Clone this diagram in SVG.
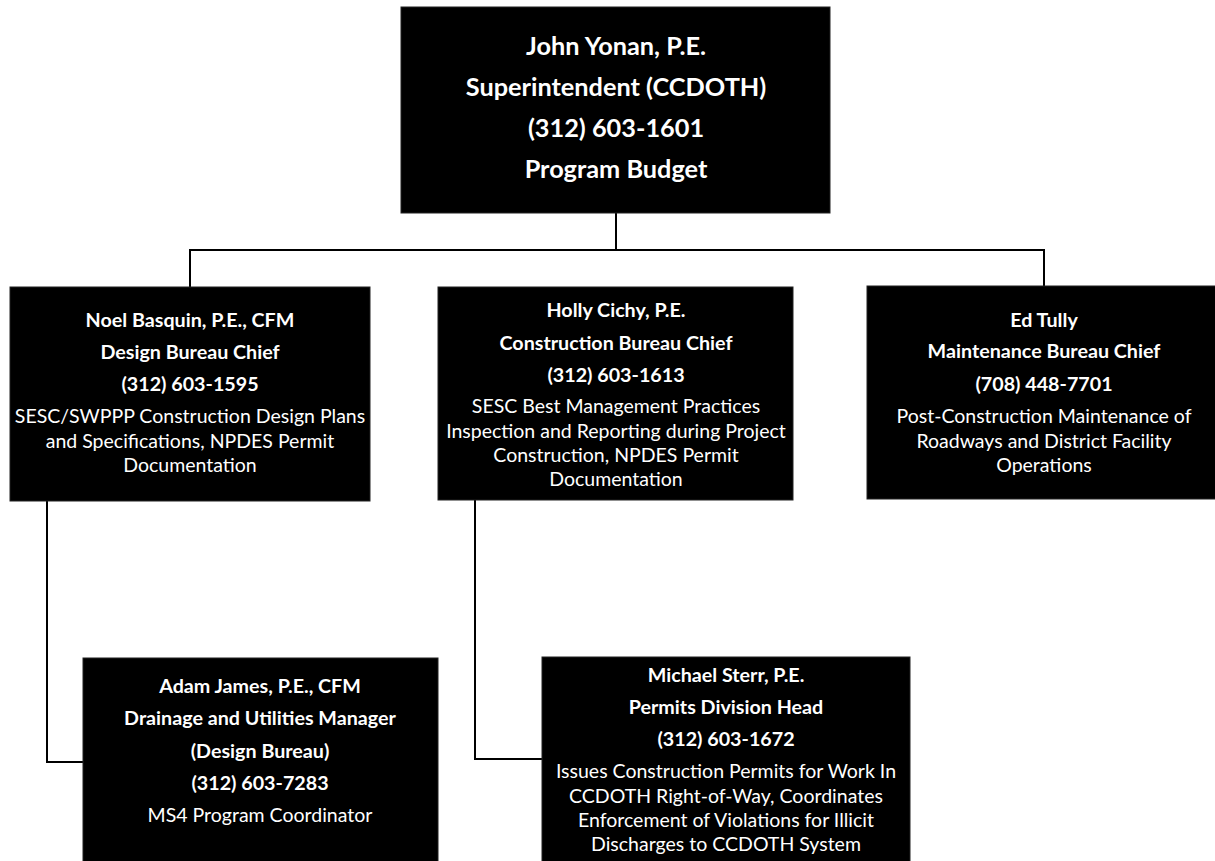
<svg xmlns="http://www.w3.org/2000/svg" width="1215" height="861" viewBox="0 0 1215 861">
<style>
.box{fill:#000;stroke:#222;stroke-width:1}
.b{font-family:Lato,"Liberation Sans",sans-serif;font-weight:bold;fill:#fff;text-anchor:middle;font-size:19.7px}
.r{font-family:Lato,"Liberation Sans",sans-serif;fill:#fff;text-anchor:middle;font-size:19.5px}
.t{font-family:Lato,"Liberation Sans",sans-serif;font-weight:bold;fill:#fff;text-anchor:middle;font-size:25.3px}
.c{fill:none;stroke:#000;stroke-width:2}
</style>
<rect width="1215" height="861" fill="#fff"/>
<g id="connectors">
<path class="c" d="M616 213V250M190 287V250H1044V286"/>
<path class="c" d="M47 501V762H83"/>
<path class="c" d="M475 500V759H542"/>
</g>
<g id="yonan">
<rect class="box" x="401" y="7" width="429" height="206"/>
<text class="t" x="616" y="55">John Yonan, P.E.</text>
<text class="t" x="616" y="96">Superintendent (CCDOTH)</text>
<text class="t" x="616" y="137">(312) 603-1601</text>
<text class="t" x="616" y="178">Program Budget</text>
</g>
<g id="basquin">
<rect class="box" x="10" y="287" width="360" height="214"/>
<text class="b" x="190" y="327">Noel Basquin, P.E., CFM</text>
<text class="b" x="190" y="359">Design Bureau Chief</text>
<text class="b" x="190" y="391">(312) 603-1595</text>
<text class="r" x="190" y="423">SESC/SWPPP Construction Design Plans</text>
<text class="r" x="190" y="448">and Specifications, NPDES Permit</text>
<text class="r" x="190" y="472">Documentation</text>
</g>
<g id="cichy">
<rect class="box" x="438" y="287" width="355" height="213"/>
<text class="b" x="616" y="317">Holly Cichy, P.E.</text>
<text class="b" x="616" y="350">Construction Bureau Chief</text>
<text class="b" x="616" y="382">(312) 603-1613</text>
<text class="r" x="616" y="413">SESC Best Management Practices</text>
<text class="r" x="616" y="438">Inspection and Reporting during Project</text>
<text class="r" x="616" y="462">Construction, NPDES Permit</text>
<text class="r" x="616" y="486">Documentation</text>
</g>
<g id="tully">
<rect class="box" x="867" y="286" width="360" height="213"/>
<text class="b" x="1044" y="327">Ed Tully</text>
<text class="b" x="1044" y="358">Maintenance Bureau Chief</text>
<text class="b" x="1044" y="391">(708) 448-7701</text>
<text class="r" x="1044" y="423">Post-Construction Maintenance of</text>
<text class="r" x="1044" y="448">Roadways and District Facility</text>
<text class="r" x="1044" y="472">Operations</text>
</g>
<g id="james">
<rect class="box" x="83" y="658" width="355" height="215"/>
<text class="b" x="260" y="693">Adam James, P.E., CFM</text>
<text class="b" x="260" y="725">Drainage and Utilities Manager</text>
<text class="b" x="260" y="758">(Design Bureau)</text>
<text class="b" x="260" y="790">(312) 603-7283</text>
<text class="r" x="260" y="822">MS4 Program Coordinator</text>
</g>
<g id="sterr">
<rect class="box" x="542" y="657" width="368" height="215"/>
<text class="b" x="726" y="682">Michael Sterr, P.E.</text>
<text class="b" x="726" y="714">Permits Division Head</text>
<text class="b" x="726" y="746">(312) 603-1672</text>
<text class="r" x="726" y="778">Issues Construction Permits for Work In</text>
<text class="r" x="726" y="803">CCDOTH Right-of-Way, Coordinates</text>
<text class="r" x="726" y="827">Enforcement of Violations for Illicit</text>
<text class="r" x="726" y="851">Discharges to CCDOTH System</text>
</g>
</svg>
